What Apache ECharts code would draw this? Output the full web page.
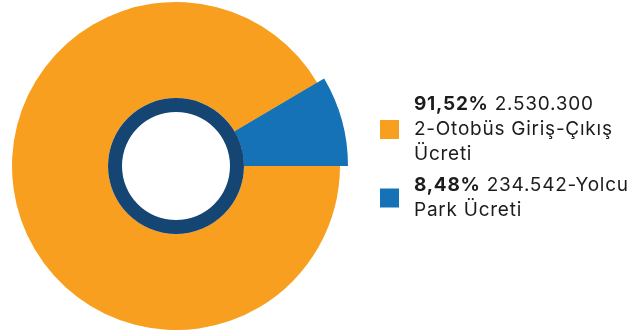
<!DOCTYPE html>
<html>
<head>
<meta charset="utf-8">
<script src="https://cdn.jsdelivr.net/npm/echarts@6/dist/echarts.min.js"></script>
<style>
  html, body { margin: 0; padding: 0; background: #fff; }
  #chart { width: 629px; height: 335px; }
</style>
</head>
<body>
<div id="chart"></div>
<script>
// Revenue split between the two fee types
const categories = ['2-Otobüs Giriş-Çıkış Ücreti', 'Yolcu Park Ücreti'];
const values = [2530300, 234542];
const colors = ['#F89F1F', '#1572B6'];
// Text shown after the amount in each legend entry (with its line breaks)
const legendTails = ['\n2-Otobüs Giriş-Çıkış\nÜcreti', '-Yolcu\nPark Ücreti'];

const total = values.reduce((a, b) => a + b, 0);
const fmtInt = v => String(v).replace(/\B(?=(\d{3})+(?!\d))/g, '.');
const fmtPct = v => (v / total * 100).toFixed(2).replace('.', ',') + '%';

// Slightly tracked-out lettering for the legend text
const SPACING = '0.75px';
const FS = 19;
const measureCtx = document.createElement('canvas').getContext('2d');
try {
  echarts.setPlatformAPI({
    measureText: (text, font) => {
      measureCtx.font = font || '12px sans-serif';
      measureCtx.letterSpacing = SPACING;
      return measureCtx.measureText(text);
    }
  });
} catch (e) {}

const chart = echarts.init(document.getElementById('chart'), null, { renderer: 'canvas' });

const center = [176, 166];
const blueStart = values[1] / total * 360;

chart.setOption({
  animation: false,
  legend: {
    orient: 'vertical',
    left: 380,
    top: 92,
    padding: 0,
    itemWidth: 19,
    itemHeight: 19,
    itemGap: 6,
    selectedMode: false,
    icon: 'rect',
    data: categories.map((n, i) => ({ name: n, itemStyle: { color: colors[i] } })),
    formatter: name => {
      const i = categories.indexOf(name);
      const parts = legendTails[i].split('\n');
      return '{b|' + fmtPct(values[i]) + '}{t| ' + fmtInt(values[i]) + parts[0] + '}' +
        parts.slice(1).map(s => '\n{t|' + s + '}').join('');
    },
    textStyle: {
      fontFamily: 'Inter',
      fontSize: FS,
      lineHeight: 25,
      color: '#1c1c1c',
      padding: [0, 0, 0, 10],
      rich: {
        b: { fontFamily: 'Inter', fontSize: FS, fontWeight: 'bold', color: '#1c1c1c', lineHeight: 25 },
        t: { fontFamily: 'Inter', fontSize: FS, color: '#1c1c1c', lineHeight: 25 }
      }
    }
  },
  series: [
    {
      // main ring of both slices
      type: 'pie',
      center: center,
      radius: [68, 164],
      startAngle: blueStart,
      clockwise: false,
      silent: true,
      label: { show: false },
      labelLine: { show: false },
      data: [
        { name: categories[0], value: values[0], itemStyle: { color: colors[0] } },
        { name: categories[1], value: values[1], itemStyle: { color: colors[1] } }
      ]
    },
    {
      // blue slice drawn slightly further out
      type: 'pie',
      center: center,
      radius: [68, 172],
      startAngle: blueStart,
      clockwise: false,
      silent: true,
      label: { show: false },
      labelLine: { show: false },
      data: [
        { name: categories[0], value: values[0], itemStyle: { color: 'rgba(0,0,0,0)' } },
        { name: categories[1], value: values[1], itemStyle: { color: colors[1] } }
      ]
    },
    {
      // dark inner ring
      type: 'pie',
      center: center,
      radius: [54, 68],
      silent: true,
      label: { show: false },
      labelLine: { show: false },
      data: [{ name: 'ring', value: 1, itemStyle: { color: '#154573' } }]
    }
  ]
});

// apply the same tracking to the drawing canvas and repaint
try {
  const cv = document.querySelector('#chart canvas');
  cv.getContext('2d').letterSpacing = SPACING;
  chart.getZr().painter.refresh(true);
} catch (e) {}
</script>
</body>
</html>
